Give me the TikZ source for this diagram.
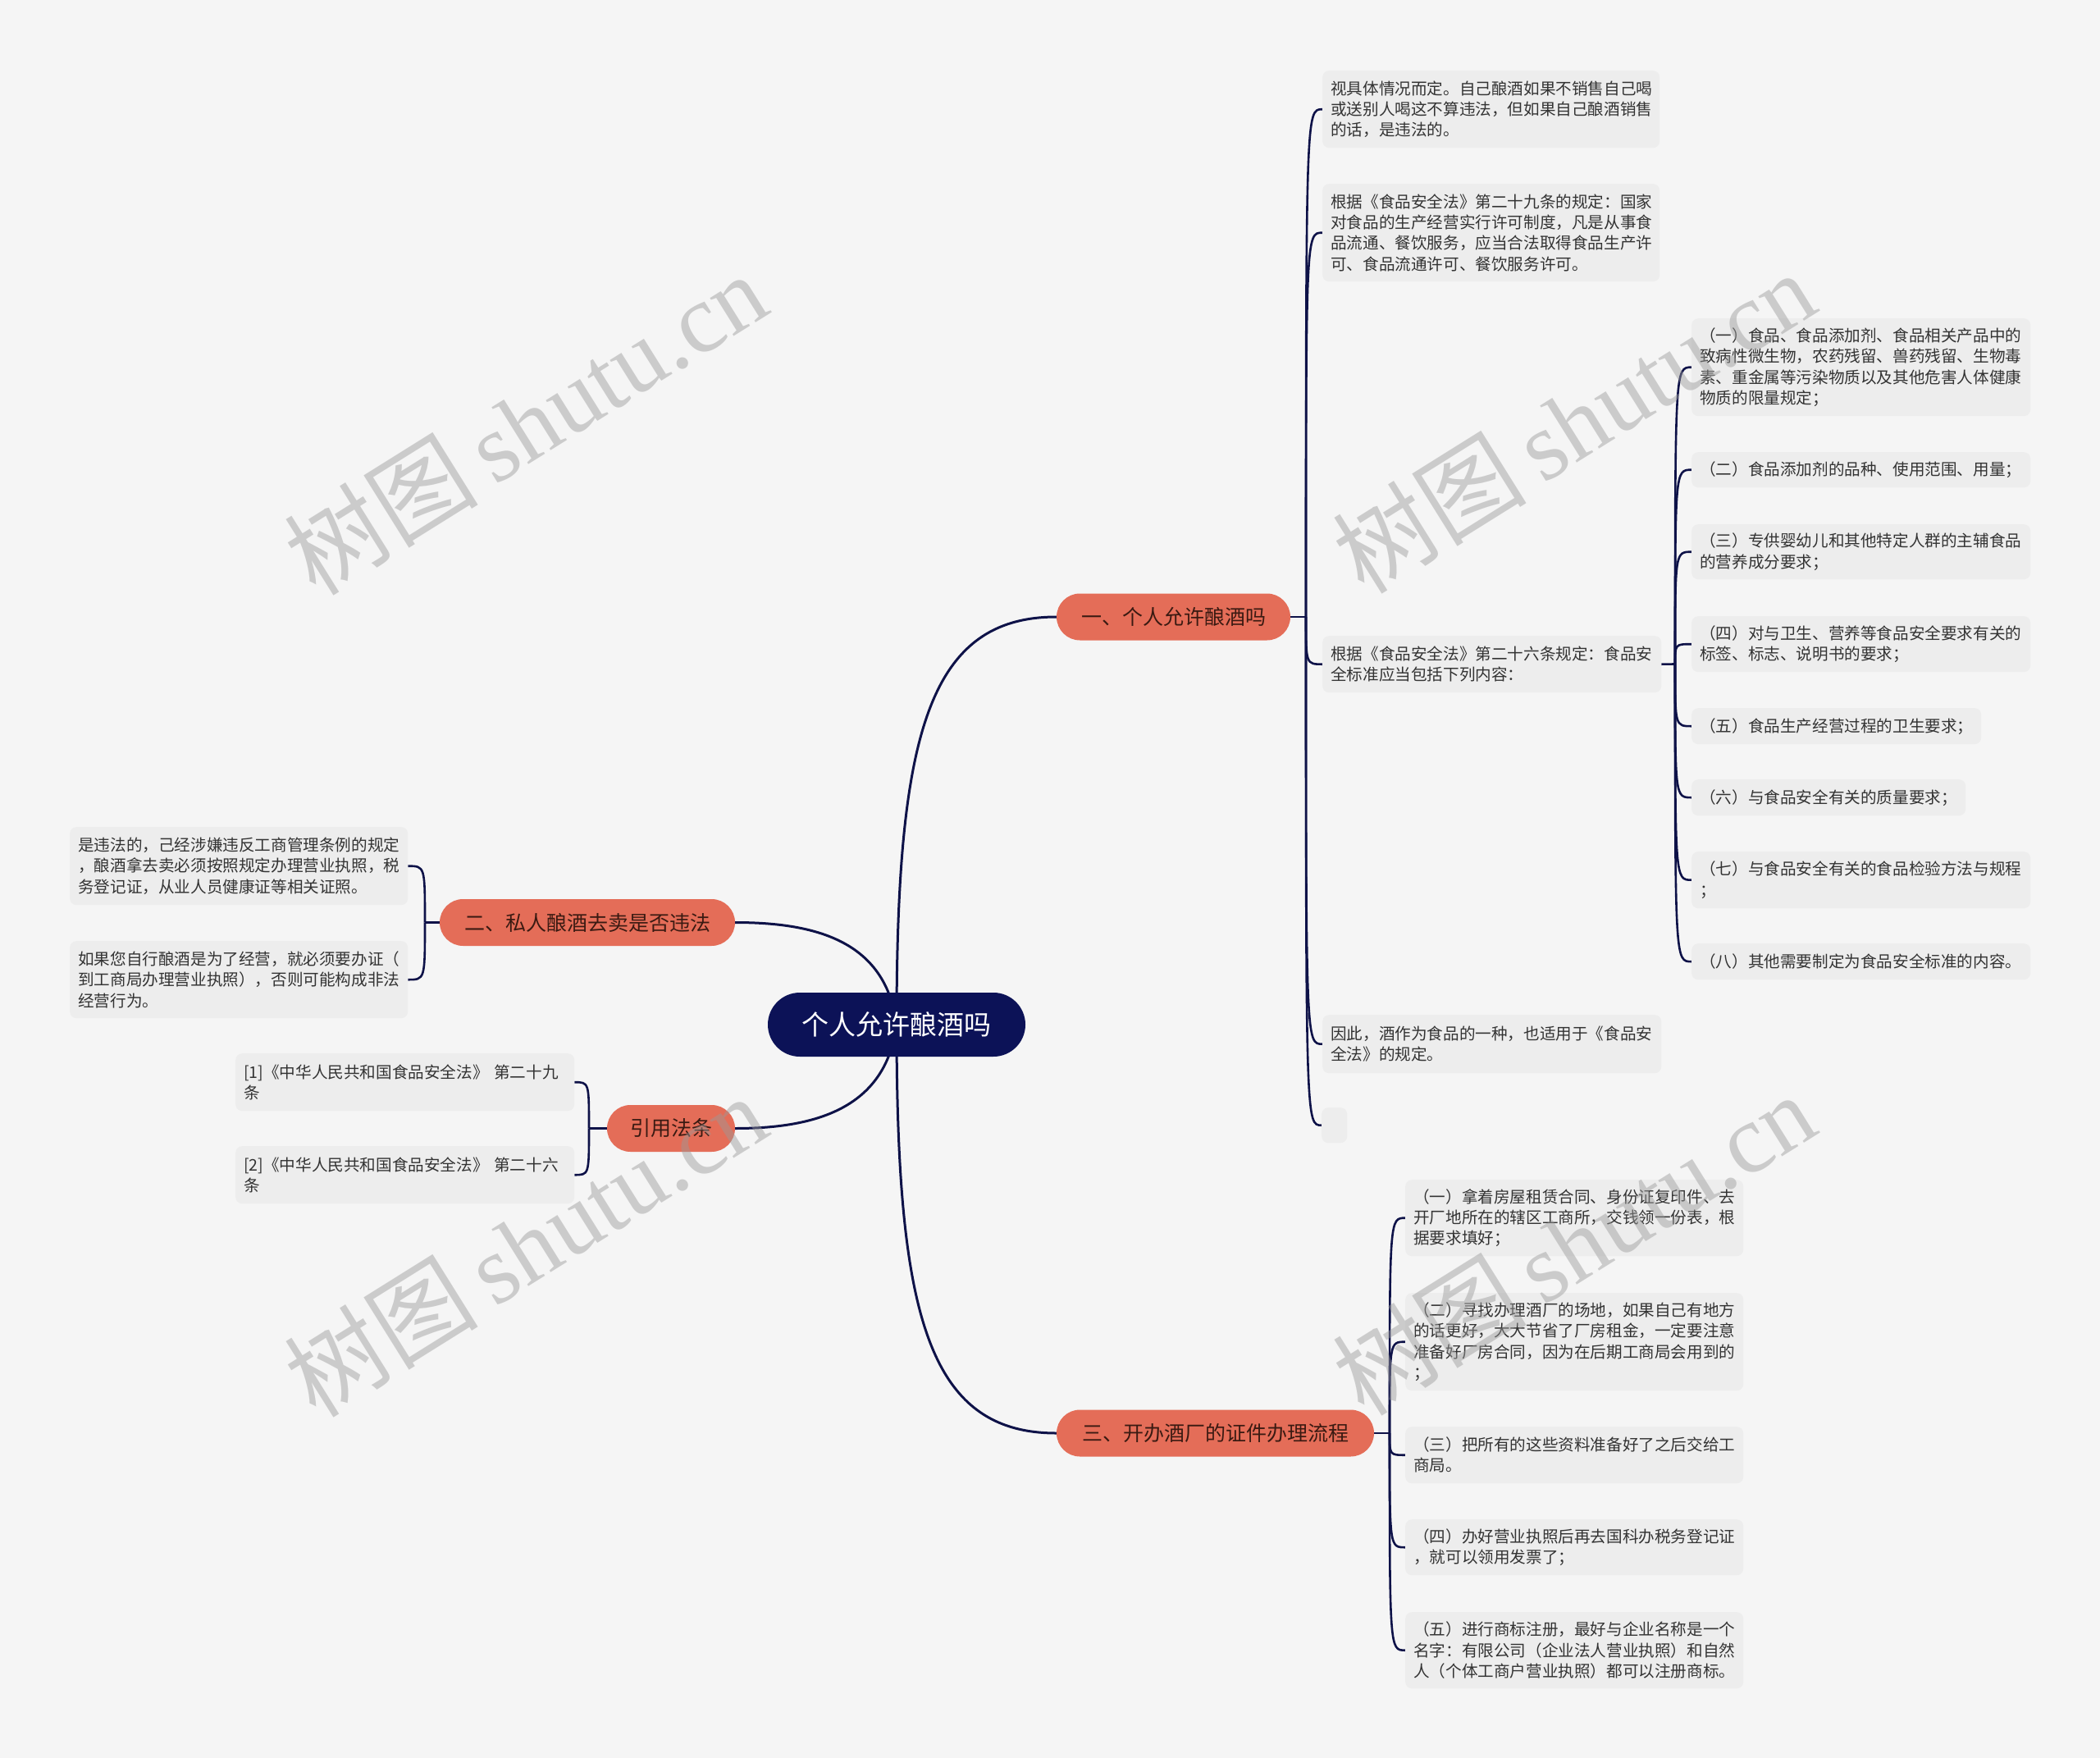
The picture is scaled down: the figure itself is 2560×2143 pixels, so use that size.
\documentclass[tikz,border=0pt]{standalone}
\usepackage{fontspec}
\setmainfont{Noto Sans CJK SC}
\newfontfamily\wmlat{Liberation Serif}
\newfontfamily\wmcjk{Noto Sans CJK SC}
\definecolor{bgC}{HTML}{F5F5F5}
\definecolor{leafC}{HTML}{EDEDED}
\definecolor{txtC}{HTML}{333333}
\definecolor{brC}{HTML}{E46D58}
\definecolor{brT}{HTML}{3A1A12}
\definecolor{rootC}{HTML}{0C1257}
\definecolor{lineC}{HTML}{0E1248}
\definecolor{wmC}{HTML}{9A9A9A}
\pgfdeclarelayer{canvas}
\pgfdeclarelayer{back}
\pgfdeclarelayer{front}
\pgfsetlayers{canvas,back,main,front}
\newcommand\lf{\fontsize{19.6}{25.3}\selectfont}
\newcommand\kid[2]{\draw[conn2] (#1) .. controls (#1 |- #2) .. (#2);}
\begin{document}
\begin{tikzpicture}[x=1pt,y=-1pt,
  conn/.style={draw=lineC, line width=3pt},
  conn2/.style={draw=lineC, line width=2.6pt},
  leaf/.style={fill=leafC, rounded corners=8pt, inner xsep=10pt, inner ysep=0pt, align=left, font=\lf, text=txtC, anchor=north west},
  branch/.style={fill=brC, rounded corners=28.5pt, text=brT, font=\fontsize{25}{30}\selectfont, inner sep=0pt, minimum height=57pt},
  rootnode/.style={fill=rootC, rounded corners=39pt, text=white, font=\fontsize{33}{38}\selectfont, inner sep=0pt, minimum height=78pt, minimum width=314pt},
  wm/.style={text=wmC, opacity=0.45, rotate=32, font=\fontsize{119}{125}\selectfont, inner sep=0pt}
]
\useasboundingbox (0,0) rectangle (2560,2143);
\begin{pgfonlayer}{canvas}
\fill[bgC] (0,0) rectangle (2560,2143);
\end{pgfonlayer}

% root and branches
\node[rootnode] (root) at (1093,1249) {个人允许酿酒吗};
\node[branch, minimum width=285pt] (b1) at (1430.5,752) {一、个人允许酿酒吗};
\node[branch, minimum width=360pt] (b2) at (716,1124.5) {二、私人酿酒去卖是否违法};
\node[branch, minimum width=156pt] (b4) at (818,1375.5) {引用法条};
\node[branch, minimum width=387pt] (b3) at (1481.5,1747) {三、开办酒厂的证件办理流程};

% branch 1 leaves
\node[leaf, text width=391pt, minimum height=94pt] (l1) at (1612,86) {视具体情况而定。自己酿酒如果不销售自己喝\\或送别人喝这不算违法，但如果自己酿酒销售\\的话，是违法的。};
\node[leaf, text width=391pt, minimum height=119pt] (l2) at (1612,224) {根据《食品安全法》第二十九条的规定：国家\\对食品的生产经营实行许可制度，凡是从事食\\品流通、餐饮服务，应当合法取得食品生产许\\可、食品流通许可、餐饮服务许可。};
\node[leaf, text width=393pt, minimum height=69pt] (l3) at (1612,775) {根据《食品安全法》第二十六条规定：食品安\\全标准应当包括下列内容：};
\node[leaf, text width=393pt, minimum height=71pt] (l4) at (1612,1237) {因此，酒作为食品的一种，也适用于《食品安\\全法》的规定。};
\node[leaf, inner xsep=0pt, minimum width=31pt, minimum height=43pt] (l5) at (1611,1350) {};

% sub leaves of l3
\node[leaf, text width=393pt, minimum height=119pt] (s1) at (2062,388) {（一）食品、食品添加剂、食品相关产品中的\\致病性微生物，农药残留、兽药残留、生物毒\\素、重金属等污染物质以及其他危害人体健康\\物质的限量规定；};
\node[leaf, text width=393pt, minimum height=43pt] (s2) at (2062,551) {（二）食品添加剂的品种、使用范围、用量；};
\node[leaf, text width=393pt, minimum height=67pt] (s3) at (2062,639) {（三）专供婴幼儿和其他特定人群的主辅食品\\的营养成分要求；};
\node[leaf, text width=393pt, minimum height=68pt] (s4) at (2062,751) {（四）对与卫生、营养等食品安全要求有关的\\标签、标志、说明书的要求；};
\node[leaf, text width=333pt, minimum height=44pt] (s5) at (2062,863) {（五）食品生产经营过程的卫生要求；};
\node[leaf, text width=314pt, minimum height=44pt] (s6) at (2062,950) {（六）与食品安全有关的质量要求；};
\node[leaf, text width=393pt, minimum height=69pt] (s7) at (2062,1038) {（七）与食品安全有关的食品检验方法与规程\\；};
\node[leaf, text width=393pt, minimum height=44pt] (s8) at (2062,1150) {（八）其他需要制定为食品安全标准的内容。};

% branch 2 leaves
\node[leaf, text width=392pt, minimum height=95pt] (a1) at (85,1008) {是违法的，己经涉嫌违反工商管理条例的规定\\，酿酒拿去卖必须按照规定办理营业执照，税\\务登记证，从业人员健康证等相关证照。};
\node[leaf, text width=392pt, minimum height=94pt] (a2) at (85,1147) {如果您自行酿酒是为了经营，就必须要办证（\\到工商局办理营业执照），否则可能构成非法\\经营行为。};

% citation leaves
\node[leaf, text width=393pt, minimum height=70pt] (c1) at (287,1284) {[1]《中华人民共和国食品安全法》 第二十九\\条};
\node[leaf, text width=393pt, minimum height=70pt] (c2) at (287,1397) {[2]《中华人民共和国食品安全法》 第二十六\\条};

% branch 3 leaves
\node[leaf, text width=392pt, minimum height=93pt] (t1) at (1713,1438) {（一）拿着房屋租赁合同、身份证复印件、去\\开厂地所在的辖区工商所，交钱领一份表，根\\据要求填好；};
\node[leaf, text width=392pt, minimum height=119pt] (t2) at (1713,1576) {（二）寻找办理酒厂的场地，如果自己有地方\\的话更好，大大节省了厂房租金，一定要注意\\准备好厂房合同，因为在后期工商局会用到的\\；};
\node[leaf, text width=392pt, minimum height=69pt] (t3) at (1713,1739) {（三）把所有的这些资料准备好了之后交给工\\商局。};
\node[leaf, text width=392pt, minimum height=68pt] (t4) at (1713,1852) {（四）办好营业执照后再去国科办税务登记证\\，就可以领用发票了；};
\node[leaf, text width=392pt, minimum height=93pt] (t5) at (1713,1965) {（五）进行商标注册，最好与企业名称是一个\\名字：有限公司（企业法人营业执照）和自然\\人（个体工商户营业执照）都可以注册商标。};

\begin{pgfonlayer}{back}
% root connectors
\draw[conn] (root.center) .. controls (1093,900) and (1130,752) .. (b1.west);
\draw[conn] (root.center) .. controls (1093,1600) and (1130,1747) .. (b3.west);
\draw[conn] (root.center) .. controls (1080,1150) and (1000,1124.5) .. (b2.east);
\draw[conn] (root.center) .. controls (1080,1348) and (1000,1375.5) .. (b4.east);

% branch 1
\coordinate (j1) at (1592,752);
\draw[conn2] (b1.east) -- (j1);
\kid{j1}{l1.west}
\kid{j1}{l2.west}
\kid{j1}{l3.west}
\kid{j1}{l4.west}
\kid{j1}{l5.west}

% l3 children
\coordinate (j3) at (2042,809.5);
\draw[conn2] (l3.east) -- (j3);
\kid{j3}{s1.west}
\kid{j3}{s2.west}
\kid{j3}{s3.west}
\kid{j3}{s4.west}
\kid{j3}{s5.west}
\kid{j3}{s6.west}
\kid{j3}{s7.west}
\kid{j3}{s8.west}

% branch 2
\coordinate (j2) at (518,1124.5);
\draw[conn2] (b2.west) -- (j2);
\kid{j2}{a1.east}
\kid{j2}{a2.east}

% citations
\coordinate (j4) at (718,1375.5);
\draw[conn2] (b4.west) -- (j4);
\kid{j4}{c1.east}
\kid{j4}{c2.east}

% branch 3
\coordinate (j5) at (1694,1747);
\draw[conn2] (b3.east) -- (j5);
\kid{j5}{t1.west}
\kid{j5}{t2.west}
\kid{j5}{t3.west}
\kid{j5}{t4.west}
\kid{j5}{t5.west}
\end{pgfonlayer}

% watermarks
\begin{pgfonlayer}{front}
\node[wm] (w1) at (640,516) {\wmcjk 树图\,\wmlat shutu.cn};
\node[wm] (w2) at (1918,514) {\wmcjk 树图\,\wmlat shutu.cn};
\node[wm] (w3) at (640,1518) {\wmcjk 树图\,\wmlat shutu.cn};
\node[wm] (w4) at (1918,1516) {\wmcjk 树图\,\wmlat shutu.cn};
\end{pgfonlayer}
\end{tikzpicture}
\end{document}
